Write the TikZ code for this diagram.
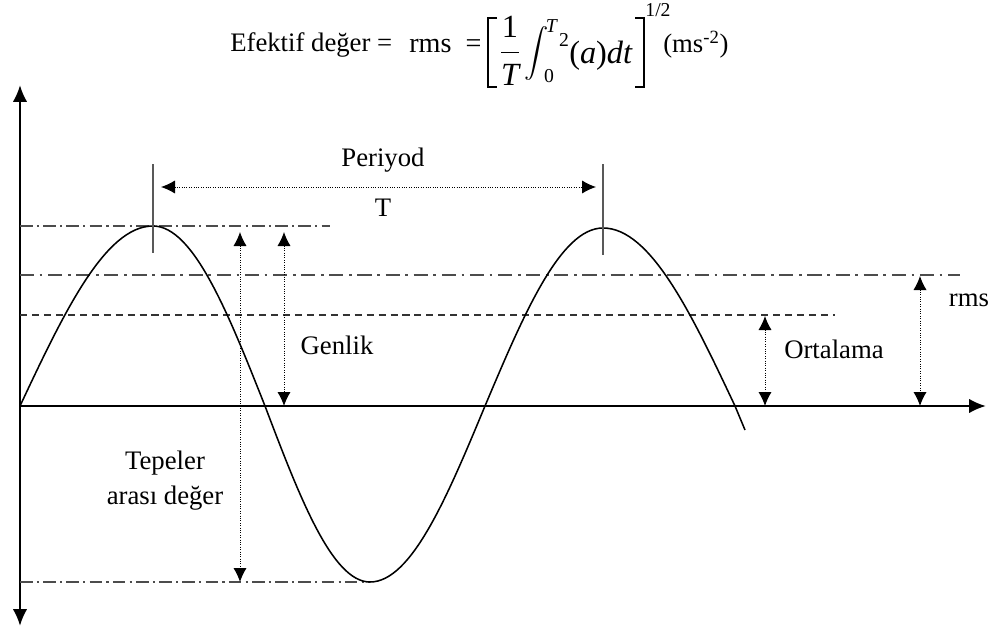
\documentclass[tikz,border=0pt]{standalone}
\usepackage{amsmath}
\usepackage{fontspec}
\setmainfont{Liberation Serif}
\usetikzlibrary{arrows.meta}

\begin{document}
\begin{tikzpicture}[
    x=0.025cm, y=-0.025cm,
    lbl/.style={font=\fontsize{19}{25}\selectfont, inner sep=0pt},
    mathlbl/.style={font=\fontsize{23}{27}\selectfont, inner sep=0pt},
    sml/.style={font=\fontsize{14}{16}\selectfont, inner sep=0pt},
    bracket/.style={line width=0.9pt},
    axis/.style={line width=1.6pt},
    wave/.style={line width=1.1pt},
    peakline/.style={black!70, line width=0.9pt, dash pattern=on 9pt off 3pt on 1.5pt off 3pt},
    rmsline/.style={black!70, line width=1.3pt, dash pattern=on 10pt off 4pt on 2pt off 4pt},
    avgline/.style={black!80, line width=0.8pt, dash pattern=on 5pt off 3.5pt},
    tickmark/.style={black!65, line width=1.4pt},
    measure/.style={densely dotted, line width=0.7pt, {Latex[length=0.35cm, width=0.33cm]}-{Latex[length=0.35cm, width=0.33cm]}}
]
\useasboundingbox (0,0) rectangle (1000,631);

% Axes
\coordinate (o) at (20,406);
\coordinate (ytop) at (20,85);
\coordinate (ybot) at (20,626);
\coordinate (xend) at (986,406);
\draw[axis, {Latex[length=0.42cm, width=0.36cm]}-{Latex[length=0.42cm, width=0.36cm]}] (ytop) -- (ybot);
\draw[axis, -{Latex[length=0.42cm, width=0.36cm]}] (o) -- (xend);

% Level lines
\draw[peakline] (20,226) -- (330,226);
\draw[rmsline] (20,275) -- (960,275);
\draw[avgline] (20,315) -- (835,315);
\draw[peakline] (20,582) -- (370,582);

% Wave
\draw[wave] (o) sin (153,226) cos (265,406) sin (370,582) cos (485,406)
    sin (603,228) cos (735,406) -- (745,430);

% Period
\coordinate (pk1) at (153,226);
\coordinate (pk2) at (603,228);
\draw[tickmark] (153,164) -- (153,253);
\draw[tickmark] (603,164) -- (603,255);
\coordinate (per-l) at (161,187);
\coordinate (per-r) at (596,187);
\draw[measure] (per-l) -- (per-r);
\node[lbl] (periyod) at (383,160) {Periyod};
\node[lbl] (tlabel) at (383,208) {T};

% Measures
\coordinate (pp-top) at (240,232);
\coordinate (pp-bot) at (240,582);
\draw[measure] (pp-top) -- (pp-bot);
\coordinate (amp-top) at (284,232);
\coordinate (amp-bot) at (284,406);
\draw[measure] (amp-top) -- (amp-bot);
\coordinate (avg-top) at (765,316);
\coordinate (avg-bot) at (765,406);
\draw[measure] (avg-top) -- (avg-bot);
\coordinate (rms-top) at (920,276);
\coordinate (rms-bot) at (920,406);
\draw[measure] (rms-top) -- (rms-bot);

% Labels
\node[lbl] (genlik) at (337,345) {Genlik};
\node[lbl] (ortalama) at (834,349) {Ortalama};
\node[lbl] (rms) at (969,300) {rms};
\node[lbl, align=center] (tepeler) at (165,481) {Tepeler\\arası değer};

% Formula
\node[lbl, anchor=base west] (efektif) at (230,51) {Efektif değer =};
\node[lbl, anchor=base west, font=\fontsize{20}{24}\selectfont] (rmseq) at (409,52) {rms\ \ =};
\draw[bracket] (497,18) -- (488,18) -- (488,87) -- (497,87);
\node[mathlbl] (frac) at (510,51) {$\dfrac{\text{1}}{\textit{T}}$};
\node[lbl, font=\fontsize{17.28}{20}\selectfont] (intsign) at (537,53) {$\displaystyle\int$};
\node[sml] (intT) at (552,26) {\textit{T}};
\node[sml] (int0) at (549,76) {0};
\node[sml] (sq) at (564,40) {2};
\node[mathlbl, anchor=base west] (adt) at (569,63) {(\textit{a})\textit{dt}};
\draw[bracket] (635,18) -- (644,18) -- (644,87) -- (635,87);
\node[sml] (half) at (658,10) {1/2};
\node[lbl, anchor=base west] (unit) at (663,52) {(ms$^{\text{-2}}$)};

\end{tikzpicture}
\end{document}
